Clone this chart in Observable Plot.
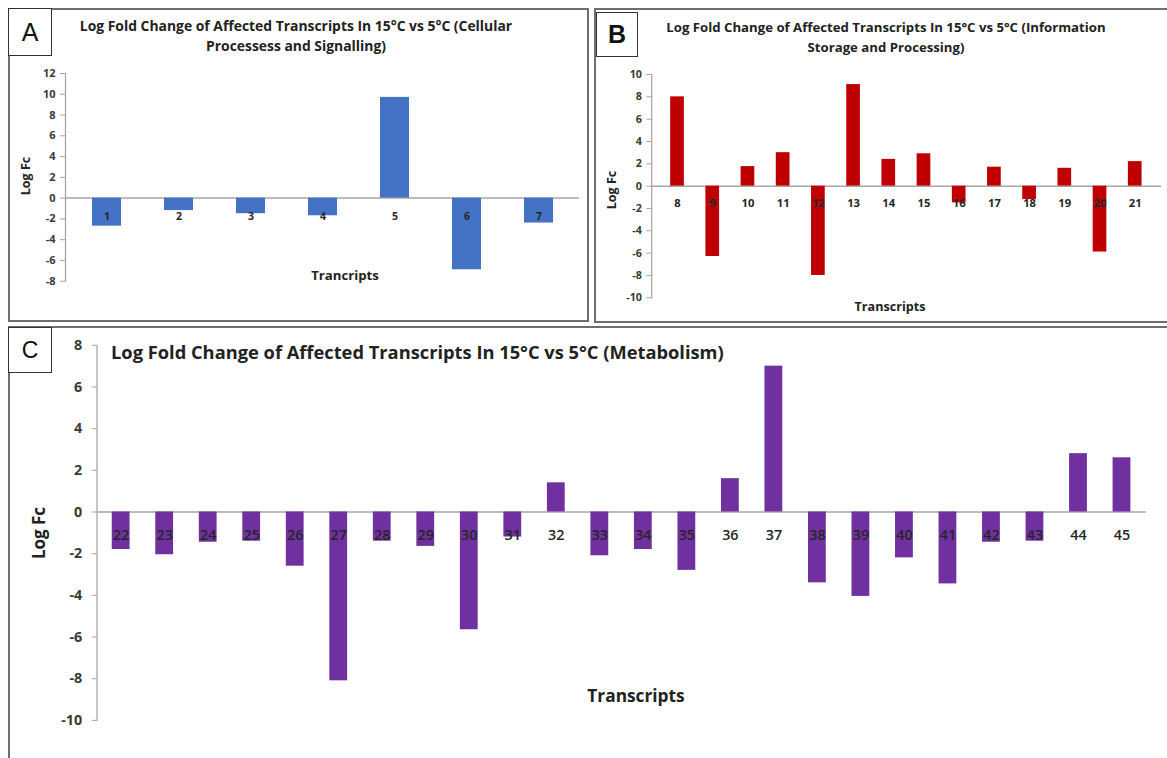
<!DOCTYPE html>
<html><head><meta charset="utf-8">
<script src="https://cdn.jsdelivr.net/npm/d3@7"></script>
<script src="https://cdn.jsdelivr.net/npm/@observablehq/plot@0.6"></script>
<style>
html,body{margin:0;padding:0;background:#fff;}
#root{position:relative;width:1167px;height:758px;overflow:hidden;background:#fff;font-family:"Open Sans",Lato,sans-serif;}
.frame{position:absolute;border:2px solid #6e6e6e;box-sizing:border-box;}
.letter{position:absolute;border:1.5px solid #333;box-sizing:border-box;background:#fff;display:flex;align-items:center;justify-content:center;font-family:"Liberation Sans",Arial,sans-serif;color:#111;z-index:3;}
.t{position:absolute;font-weight:bold;color:#222;white-space:nowrap;line-height:1;z-index:2;}
.c{transform:translate(-50%,-50%);}
.l{transform:translate(0,-50%);}
.ylab{transform:translate(-50%,-50%) rotate(-90deg);}
.plot{position:absolute;z-index:1;}
</style></head><body><div id="root"></div>
<script>
// ---- Data ----
const idsA = ["1","2","3","4","5","6","7"];
const valuesA = [-2.7, -1.2, -1.5, -1.7, 9.7, -6.9, -2.4];
const ticksA = [-8,-6,-4,-2,0,2,4,6,8,10,12];

const idsB = ["8","9","10","11","12","13","14","15","16","17","18","19","20","21"];
const valuesB = [8.0, -6.3, 1.75, 3.0, -8.0, 9.1, 2.4, 2.9, -1.5, 1.7, -1.2, 1.6, -5.9, 2.2];
const ticksB = [-10,-8,-6,-4,-2,0,2,4,6,8,10];

const idsC = ["22","23","24","25","26","27","28","29","30","31","32","33","34","35","36","37","38","39","40","41","42","43","44","45"];
const valuesC = [-1.8, -2.05, -1.45, -1.4, -2.6, -8.1, -1.4, -1.65, -5.65, -1.2, 1.4, -2.1, -1.8, -2.8, 1.6, 7.0, -3.4, -4.05, -2.2, -3.45, -1.45, -1.4, 2.8, 2.6];
const ticksC = [-10,-8,-6,-4,-2,0,2,4,6,8];

const titleA = ["Log Fold Change of Affected Transcripts In 15°C vs 5°C (Cellular", "Processess and Signalling)"];
const titleB = ["Log Fold Change of Affected Transcripts In 15°C vs 5°C (Information", "Storage and Processing)"];
const titleC = "Log Fold Change of Affected Transcripts In 15°C vs 5°C (Metabolism)";

const root = document.getElementById("root");
const FONT = "'Open Sans', Lato, sans-serif";

function el(cls, css, text) {
  const d = document.createElement("div");
  d.className = cls;
  Object.assign(d.style, css);
  if (text != null) d.textContent = text;
  root.appendChild(d);
  return d;
}

function panel(o) {
  const data = o.ids.map((id, i) => ({id, v: o.values[i]}));
  const svg = Plot.plot({
    width: o.width, height: o.height,
    marginLeft: o.mL, marginRight: o.mR, marginTop: o.mT, marginBottom: o.mB,
    style: {fontFamily: FONT, background: "transparent", overflow: "visible"},
    x: {type: "band", domain: o.ids, paddingInner: o.pi, paddingOuter: o.po, axis: null},
    y: {domain: o.domain, axis: null},
    marks: [
      Plot.frame({anchor: "left", stroke: "#a6a6a6", strokeWidth: 1.3}),
      Plot.axisY({ticks: o.ticks, tickFormat: d => String(d), tickSize: 5, tickPadding: o.tickPad,
        fontSize: o.tickFont, fontWeight: "bold", fill: "#3a3a3a", stroke: "#a6a6a6", label: null}),
      Plot.ruleY([0], {stroke: "#a6a6a6", strokeWidth: 1.5}),
      Plot.barY(data, {x: "id", y: "v", fill: o.color}),
      Plot.text(data, {x: "id", y: () => 0, text: "id", dy: o.catDy, fontSize: o.catFont,
        fontWeight: o.catWeight, fill: "#262626"})
    ]
  });
  const wrap = document.createElement("div");
  wrap.className = "plot";
  wrap.style.left = o.left + "px";
  wrap.style.top = o.top + "px";
  wrap.appendChild(svg);
  root.appendChild(wrap);
}

// ---- Frames ----
el("frame", {left: "8px", top: "8px", width: "581px", height: "314px"});
el("frame", {left: "594px", top: "8px", width: "600px", height: "315px"});
el("frame", {left: "8px", top: "326px", width: "1200px", height: "500px"});

// ---- Panel A ----
panel({ids: idsA, values: valuesA, ticks: ticksA, domain: [-8, 12], color: "#4472C4",
  left: 0, top: 0, width: 590, height: 320, mL: 65, mR: 11, mT: 73, mB: 39.3,
  pi: 0.6, po: 0.33, tickPad: 5, tickFont: 11, catFont: 10.5, catWeight: "bold", catDy: 19});
el("letter", {left: "8px", top: "8px", width: "44px", height: "48px", fontSize: "25px"}, "A");
el("t c", {left: "296px", top: "26px", fontSize: "13.9px"}, titleA[0]);
el("t c", {left: "296px", top: "46px", fontSize: "13.9px"}, titleA[1]);
el("t c", {left: "345px", top: "276px", fontSize: "13.2px"}, "Trancripts");
el("t ylab", {left: "26px", top: "176px", fontSize: "12.5px"}, "Log Fc");

// ---- Panel B ----
panel({ids: idsB, values: valuesB, ticks: ticksB, domain: [-10, 10], color: "#C00000",
  left: 590, top: 0, width: 590, height: 320, mL: 62.6, mR: 6, mT: 75.7, mB: 16,
  pi: 0.6, po: 0.35, tickPad: 5, tickFont: 11, catFont: 11.5, catWeight: "bold", catDy: 18});
el("letter", {left: "596px", top: "12px", width: "42px", height: "45px", fontSize: "25px", fontWeight: "bold"}, "B");
el("t c", {left: "886px", top: "28px", fontSize: "13.2px"}, titleB[0]);
el("t c", {left: "886px", top: "48px", fontSize: "13.2px"}, titleB[1]);
el("t c", {left: "890px", top: "307px", fontSize: "12.6px"}, "Transcripts");
el("t ylab", {left: "612px", top: "190px", fontSize: "12.5px"}, "Log Fc");

// ---- Panel C ----
panel({ids: idsC, values: valuesC, ticks: ticksC, domain: [-10, 8], color: "#7030A0",
  left: 0, top: 326, width: 1180, height: 432, mL: 97.6, mR: 21.4, mT: 19, mB: 33.7,
  pi: 0.59, po: 0.28, tickPad: 10, tickFont: 14.5, catFont: 14.5, catWeight: 600, catDy: 24});
el("letter", {left: "8px", top: "327px", width: "44px", height: "46px", fontSize: "23px"}, "C");
el("t l", {left: "111px", top: "352px", fontSize: "18.3px"}, titleC);
el("t c", {left: "636px", top: "696px", fontSize: "17.3px"}, "Transcripts");
el("t ylab", {left: "38px", top: "533px", fontSize: "17px"}, "Log Fc");
</script>
</body></html>
